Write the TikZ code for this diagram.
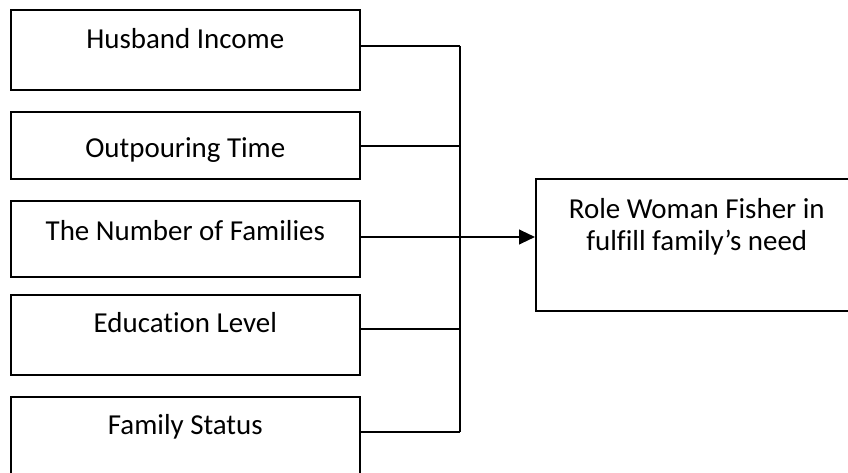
\documentclass[tikz,border=0pt]{standalone}
\usepackage{fontspec}
\setmainfont{Carlito}[Ligatures=NoCommon]
\usetikzlibrary{arrows.meta,positioning}

\begin{document}
\begin{tikzpicture}[x=0.75pt,y=-0.75pt,
  every node/.style={font=\fontsize{21.7}{24}\selectfont,align=center},
  factor/.style={draw,line width=1.2pt,anchor=north west,minimum width=261.75pt,inner xsep=0pt,inner ysep=0pt}]
\clip (0,0) rectangle (848,473);
\node[factor,text height=29.25pt,text depth=30.75pt] (income) at (10,9) {Husband Income};
\node[factor,text height=34.5pt,text depth=15.75pt] (time) at (10,111) {Outpouring Time};
\node[factor,text height=30pt,text depth=27pt] (families) at (10,200) {The Number of Families};
\node[factor,text height=28.5pt,text depth=31.5pt] (education) at (10,294) {Education Level};
\node[factor,text height=28.5pt,text depth=33pt] (status) at (10,396) {Family Status};
\node[draw,line width=1.2pt,anchor=north west,minimum width=241.5pt,inner xsep=0pt,inner ysep=0pt,text height=54pt,text depth=45pt] (role) at (535,178) {Role Woman Fisher in\\fulfill family’s need};
\coordinate (bus) at (460,237);
\draw[line width=0.9pt] (income.east |- 0,46) -- (bus |- 0,46);
\draw[line width=0.9pt] (time.east |- 0,146) -- (bus |- 0,146);
\draw[line width=0.9pt] (education.east |- 0,329) -- (bus |- 0,329);
\draw[line width=0.9pt] (status.east |- 0,432) -- (bus |- 0,432);
\draw[line width=0.9pt] (bus |- 0,46) -- (bus |- 0,432);
\draw[-{Triangle[length=12pt,width=11pt]},line width=1.6pt] (families.east |- bus) -- (role.west |- bus);
\end{tikzpicture}
\end{document}
